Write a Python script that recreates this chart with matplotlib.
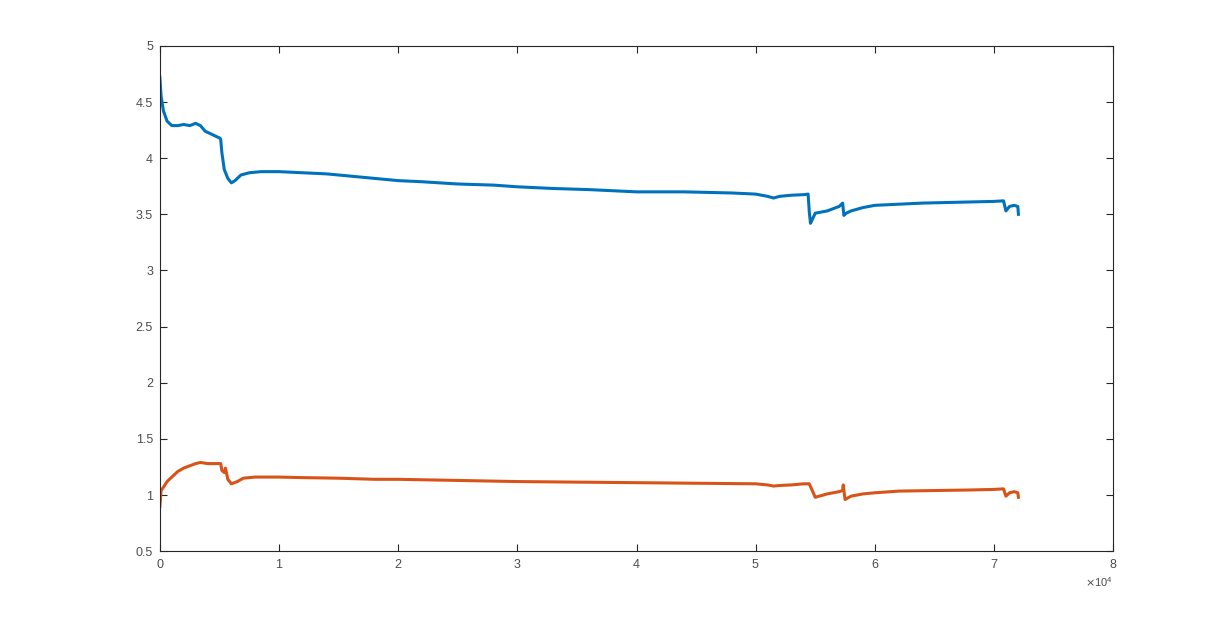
import matplotlib.pyplot as plt
from matplotlib.ticker import ScalarFormatter

plt.rcParams['font.family'] = ['Liberation Sans', 'DejaVu Sans']

# sample index and readings
x_top = [0, 100, 300, 600, 1000, 1500, 2000, 2500, 3000, 3400, 3800, 4200, 4600, 5000,
         5100, 5200, 5400, 5700, 6000, 6300, 6800, 7500, 8500, 10000, 12000, 14000,
         16000, 18000, 20000, 22000, 25000, 28000, 30000, 33000, 36000, 40000, 44000,
         48000, 50000, 51000, 51500, 52000, 53000, 54000, 54400, 54500, 54600, 55000,
         56000, 57000, 57300, 57400, 57600, 58000, 59000, 60000, 62000, 64000, 66000,
         68000, 70000, 70800, 71000, 71300, 71700, 72000, 72050]
y_top = [4.72, 4.55, 4.42, 4.33, 4.29, 4.29, 4.30, 4.29, 4.31, 4.29, 4.24, 4.22, 4.20, 4.18,
         4.17, 4.05, 3.90, 3.82, 3.78, 3.80, 3.85, 3.87, 3.88, 3.88, 3.87, 3.86,
         3.84, 3.82, 3.80, 3.79, 3.77, 3.76, 3.745, 3.73, 3.72, 3.70, 3.70,
         3.69, 3.68, 3.66, 3.645, 3.66, 3.67, 3.675, 3.68, 3.52, 3.42, 3.51,
         3.53, 3.57, 3.60, 3.49, 3.51, 3.53, 3.56, 3.58, 3.59, 3.60, 3.605,
         3.61, 3.615, 3.62, 3.53, 3.57, 3.58, 3.57, 3.50]

x_bot = [0, 100, 300, 600, 1000, 1500, 2000, 2500, 3000, 3400, 4000, 4600, 5100, 5200,
         5400, 5500, 5700, 6000, 6500, 7000, 8000, 10000, 12000, 15000, 18000, 20000,
         25000, 30000, 35000, 40000, 45000, 50000, 51000, 51500, 52000, 53000, 54000,
         54500, 55000, 56000, 57000, 57300, 57350, 57500, 58000, 59000, 60000, 62000,
         65000, 68000, 70000, 70800, 71000, 71300, 71700, 72000, 72050]
y_bot = [0.90, 1.04, 1.07, 1.12, 1.16, 1.21, 1.24, 1.26, 1.28, 1.29, 1.28, 1.28, 1.28, 1.22,
         1.20, 1.24, 1.14, 1.10, 1.12, 1.15, 1.16, 1.16, 1.155, 1.15, 1.14, 1.14,
         1.13, 1.12, 1.115, 1.11, 1.105, 1.10, 1.09, 1.08, 1.085, 1.09, 1.10,
         1.10, 0.98, 1.01, 1.03, 1.04, 1.09, 0.96, 0.99, 1.01, 1.02, 1.035,
         1.04, 1.045, 1.05, 1.055, 0.99, 1.02, 1.03, 1.02, 0.98]

x_ticks = [0, 10000, 20000, 30000, 40000, 50000, 60000, 70000, 80000]
y_ticks = [0.5, 1, 1.5, 2, 2.5, 3, 3.5, 4, 4.5, 5]

fig = plt.figure(figsize=(12.3, 6.2), dpi=100)
ax = fig.add_axes([0.130, 0.111, 0.775, 0.815])

ax.plot(x_top, y_top, color="#0072BD", linewidth=2.2)
ax.plot(x_bot, y_bot, color="#D95319", linewidth=2.2)

ax.set_xlim(0, 80000)
ax.set_ylim(0.5, 5)
ax.set_xticks(x_ticks)
ax.set_yticks(y_ticks)
ax.set_yticklabels([f"{v:g}" for v in y_ticks])

fmt = ScalarFormatter(useMathText=True)
fmt.set_powerlimits((0, 0))
ax.xaxis.set_major_formatter(fmt)
ax.xaxis.get_offset_text().set_fontsize(8)
ax.xaxis.get_offset_text().set_color("#4d4d4d")

# MATLAB-like box with inward ticks on all sides
for side in ax.spines.values():
    side.set_color("#262626")
    side.set_linewidth(0.8)
ax.tick_params(direction="in", length=5, width=0.8, top=True, right=True,
               colors="#262626", labelcolor="#4d4d4d", labelsize=9, pad=5)

fig.savefig("out.png", dpi=100)
